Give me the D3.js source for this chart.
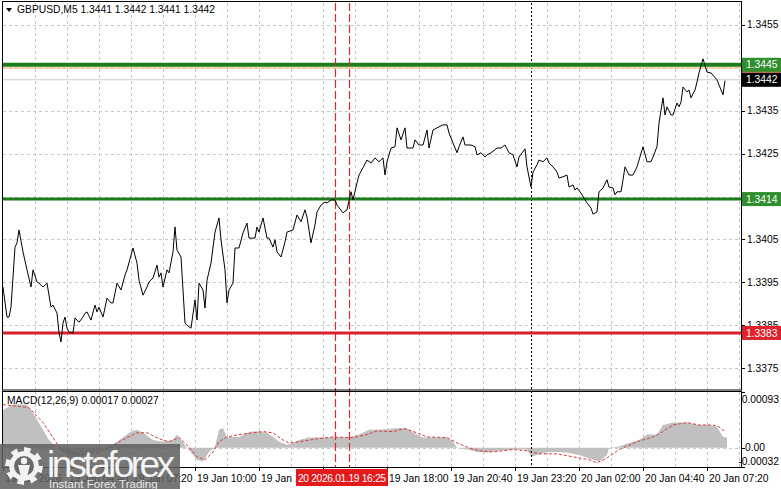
<!DOCTYPE html>
<html>
<head>
<meta charset="utf-8">
<script src="https://cdn.jsdelivr.net/npm/d3@7"></script>
<style>
body { margin: 0; background: #fff; }
text { font-family: "Liberation Sans", Arial, sans-serif; }
</style>
</head>
<body>
<div id="dataviz"></div>
<script>
// ---- data (bar = 5 min bars from 19 Jan 02:00) ----
var header = "GBPUSD,M5  1.3441 1.3442 1.3441 1.3442";
var macdTitle = "MACD(12,26,9) 0.00017 0.00027";

var priceBars = [0,2,3,4,6,7,8,10,12,14,15,17,18,20,22,24,25,27,28,29,30,31,32,33,35,36,38,40,41,42,44,46,47,48,50,52,54,55,57,59,61,62,65,67,68,70,72,73,75,77,78,79,80,82,83,85,86,87,89,90,91,92,94,96,97,98,100,101,102,104,106,108,109,111,112,113,115,116,118,120,122,123,126,127,128,130,132,133,135,136,137,139,141,142,145,147,149,151,152,154,156,157,159,161,162,164,166,167,170,172,174,175,177,178,180,182,184,186,188,190,191,192,194,196,197,199,201,202,205,206,208,210,212,213,215,217,220,222,223,225,227,228,230,231,234,236,237,239,241,242,244,246,247,249,251,253,255,257,258,261,262,264,265,267,268,270,272,273,275,277,278,280,282,283,285,286,287,289,291,292,294,295,297,298,300,302,303,305,306,307,309,310,311,313,315,317,318,320,322,324,325,327,328,330,331,332,334,335,337,338,339,340,342,343,344,346,347,348,350,352,354,357,358,360,361];
var priceValues = [1.33939,1.33869,1.33869,1.33892,1.34032,1.34042,1.34072,1.34021,1.33979,1.33939,1.33979,1.33951,1.33948,1.33939,1.33948,1.33892,1.33897,1.33878,1.33832,1.33811,1.33855,1.33869,1.33843,1.33834,1.33832,1.33867,1.33857,1.33869,1.33878,1.33881,1.33862,1.33897,1.33881,1.33892,1.33869,1.33913,1.33902,1.33902,1.33948,1.33932,1.33967,1.33979,1.34030,1.33995,1.33955,1.33920,1.33939,1.33951,1.33960,1.33990,1.33962,1.33972,1.33939,1.33979,1.33972,1.34021,1.34079,1.34025,1.34009,1.33932,1.33855,1.33850,1.33843,1.33909,1.33862,1.33948,1.33932,1.33890,1.33955,1.33995,1.34067,1.34100,1.34049,1.33979,1.33902,1.33932,1.33948,1.34030,1.34030,1.34065,1.34088,1.34053,1.34053,1.34079,1.34067,1.34100,1.34053,1.34053,1.34032,1.34049,1.34021,1.34009,1.34044,1.34067,1.34072,1.34107,1.34091,1.34119,1.34102,1.34042,1.34084,1.34114,1.34130,1.34137,1.34135,1.34142,1.34142,1.34130,1.34112,1.34119,1.34161,1.34142,1.34182,1.34200,1.34217,1.34235,1.34228,1.34240,1.34231,1.34240,1.34200,1.34231,1.34263,1.34266,1.34310,1.34282,1.34310,1.34263,1.34263,1.34282,1.34270,1.34270,1.34305,1.34263,1.34305,1.34310,1.34317,1.34317,1.34298,1.34275,1.34252,1.34266,1.34289,1.34270,1.34270,1.34266,1.34247,1.34252,1.34242,1.34247,1.34252,1.34259,1.34263,1.34263,1.34270,1.34252,1.34247,1.34219,1.34242,1.34261,1.34219,1.34172,1.34207,1.34224,1.34235,1.34231,1.34240,1.34228,1.34219,1.34207,1.34193,1.34196,1.34200,1.34172,1.34177,1.34165,1.34170,1.34158,1.34142,1.34135,1.34123,1.34109,1.34114,1.34161,1.34170,1.34189,1.34172,1.34170,1.34154,1.34161,1.34161,1.34189,1.34219,1.34200,1.34200,1.34219,1.34235,1.34266,1.34231,1.34231,1.34242,1.34266,1.34321,1.34380,1.34340,1.34359,1.34340,1.34340,1.34368,1.34359,1.34370,1.34405,1.34394,1.34398,1.34380,1.34398,1.34417,1.34438,1.34471,1.34440,1.34438,1.34422,1.34410,1.34387,1.34420];

var histBars = [0,5,12,15,20,23,27,33,41,48,55,60,64,67,70,75,80,85,87,89,92,97,100,103,106,108,110,112,115,118,122,125,128,132,135,138,142,145,148,153,158,163,168,173,178,183,188,198,202,207,210,215,222,225,227,232,237,242,248,255,262,264,267,272,277,282,288,295,298,302,303,308,313,318,322,327,330,335,342,348,353,357,360,362];
var histValues = [0.00063,0.00072,0.00072,0.00058,0.00030,0.00013,0,-0.00015,-0.00012,-0.00005,0.00005,0.00017,0.00027,0.00030,0.00025,0.00013,0.00010,0.00013,0.00022,0.00013,0,-0.00020,-0.00023,-0.00007,0.00002,0.00030,0.00033,0.00017,0.00018,0.00018,0.00025,0.00027,0.00027,0.00025,0.00018,0.00010,0.00005,0.00008,0.00013,0.00017,0.00017,0.00017,0.00018,0.00017,0.00022,0.00030,0.00030,0.00033,0.00032,0.00022,0.00017,0.00017,0.00017,0.00010,0,-0.00003,-0.00007,-0.00008,-0.00005,-0.00003,-0.00003,-0.00015,-0.00012,-0.00007,-0.00007,-0.00008,-0.00012,-0.00020,-0.00023,-0.00012,0,0.00002,0.00008,0.00013,0.00022,0.00022,0.00038,0.00042,0.00042,0.00038,0.00038,0.00035,0.00018,0.00017];

var signalBars = [0,13,20,25,29,38,48,57,62,67,72,78,83,88,92,97,101,105,108,112,118,125,130,135,140,143,148,157,165,175,182,187,195,201,207,212,222,227,233,238,245,255,262,268,277,285,293,297,302,308,317,325,330,335,342,348,355,358,361];
var signalValues = [0.00072,0.00067,0.00042,0.00017,-0.00003,-0.00012,-0.00008,0.00008,0.00017,0.00025,0.00025,0.00015,0.00010,0.00017,0.00005,-0.00015,-0.00020,-0.00007,0.00010,0.00018,0.00022,0.00025,0.00027,0.00025,0.00013,0.00008,0.00010,0.00015,0.00018,0.00017,0.00022,0.00028,0.00027,0.00032,0.00025,0.00018,0.00017,0.00008,0,-0.00005,-0.00007,-0.00003,-0.00005,-0.00010,-0.00010,-0.00015,-0.00020,-0.00025,-0.00017,-0.00003,0.00010,0.00018,0.00027,0.00038,0.00042,0.00038,0.00038,0.00035,0.00027];

var priceTicks = [1.3455, 1.3445, 1.3435, 1.3425, 1.3415, 1.3405, 1.3395, 1.3385, 1.3375];
var timeLabels = ["19 Jan 2026", "19 Jan 04:40", "19 Jan 07:20", "19 Jan 10:00", "19 Jan 12:40", "19 Jan 15:20",
                  "19 Jan 18:00", "19 Jan 20:40", "19 Jan 23:20", "20 Jan 02:00", "20 Jan 04:40", "20 Jan 07:20"];
var macdTicks = [0.00093, 0, -0.00032];
var macdTickText = ["0.00093", "0.00", "-0.00032"];

var levelValues = [1.34457, 1.34144, 1.33832];
var levelText = ["1.3445", "1.3414", "1.3383"];
var levelColors = ["#1d7d1d", "#1d7d1d", "#d8202a"];
var tagColors = ["#2f8f2f", "#2f8f2f", "#e0202a"];
var bidValue = 1.34422, bidText = "1.3442";
var markerBars = [166, 173];
var markerText = "20  2026.01.19 16:25";
var daySepBar = 264;

// ---- layout ----
var W = 781, H = 489;
var left = 3, right = 741, mainTop = 3, mainBottom = 390, macdTop = 392, macdBottom = 467;
var fs = 10.3;

var svg = d3.select("#dataviz").append("svg")
    .attr("width", W)
    .attr("height", H)
    .style("display", "block");

var x = d3.scaleLinear().domain([0, 369]).range([left, right]);
var y = d3.scaleLinear().domain([1.33699, 1.34601]).range([mainBottom, mainTop]);
var ym = d3.scaleLinear().domain([-0.00032, 0.00093]).range([macdBottom, macdTop]);

var gridBars = d3.range(16, 369, 16);

// vertical grid in both panels
[[mainTop, mainBottom], [macdTop, macdBottom]].forEach(function(p) {
    svg.append("g").selectAll("line").data(gridBars).enter().append("line")
        .attr("x1", d => Math.round(x(d)) + 0.5).attr("x2", d => Math.round(x(d)) + 0.5)
        .attr("y1", p[0]).attr("y2", p[1])
        .attr("stroke", "#c8c8c8").attr("stroke-dasharray", "3,3");
});

// horizontal grid
svg.append("g").selectAll("line").data(priceTicks).enter().append("line")
    .attr("x1", left).attr("x2", right)
    .attr("y1", d => Math.round(y(d)) + 0.5).attr("y2", d => Math.round(y(d)) + 0.5)
    .attr("stroke", "#c8c8c8").attr("stroke-dasharray", "3,3");

svg.append("line")
    .attr("x1", left).attr("x2", right)
    .attr("y1", Math.round(ym(0)) + 0.5).attr("y2", Math.round(ym(0)) + 0.5)
    .attr("stroke", "#c8c8c8").attr("stroke-dasharray", "3,3");

// MACD histogram + signal
var price = priceBars.map((b, i) => ({ b: b, v: priceValues[i] }));
var hist = histBars.map((b, i) => ({ b: b, v: histValues[i] }));
var signal = signalBars.map((b, i) => ({ b: b, v: signalValues[i] }));

svg.append("path")
    .datum(hist)
    .attr("fill", "#c0c0c0")
    .attr("d", d3.area().x(d => x(d.b)).y0(ym(0)).y1(d => ym(d.v)));

svg.append("path")
    .datum(signal)
    .attr("fill", "none")
    .attr("stroke", "#d43a3a")
    .attr("stroke-width", 1)
    .attr("stroke-dasharray", "3,2")
    .attr("d", d3.line().x(d => x(d.b)).y(d => ym(d.v)));

// day separator
svg.append("line")
    .attr("x1", Math.round(x(daySepBar)) + 0.5).attr("x2", Math.round(x(daySepBar)) + 0.5)
    .attr("y1", mainTop).attr("y2", macdBottom)
    .attr("stroke", "#000").attr("stroke-dasharray", "2,2");

// levels
svg.append("line")
    .attr("x1", left).attr("x2", right)
    .attr("y1", y(bidValue)).attr("y2", y(bidValue))
    .attr("stroke", "#c8c8c8");

svg.append("line")
    .attr("x1", left).attr("x2", right)
    .attr("y1", y(levelValues[0]) + 3).attr("y2", y(levelValues[0]) + 3)
    .attr("stroke", "#f3cf9c").attr("stroke-width", 1.5);

svg.append("g").selectAll("line").data(levelValues).enter().append("line")
    .attr("x1", left).attr("x2", right)
    .attr("y1", d => y(d)).attr("y2", d => y(d))
    .attr("stroke", (d, i) => levelColors[i])
    .attr("stroke-width", (d, i) => i == 0 ? 4 : 3);

// red time markers
svg.append("g").selectAll("line").data(markerBars).enter().append("line")
    .attr("x1", d => Math.round(x(d)) + 0.5).attr("x2", d => Math.round(x(d)) + 0.5)
    .attr("y1", mainTop).attr("y2", macdBottom)
    .attr("stroke", "#e0262b").attr("stroke-width", 1.2)
    .attr("stroke-dasharray", "8,3");

// price line
svg.append("path")
    .datum(price)
    .attr("fill", "none")
    .attr("stroke", "#000")
    .attr("stroke-width", 1)
    .attr("d", d3.line().x(d => x(d.b)).y(d => y(d.v)));

// frames
svg.append("rect").attr("x", left - 0.5).attr("y", 1.5).attr("width", right - left + 1).attr("height", mainBottom - 1.5)
    .attr("fill", "none").attr("stroke", "#000");
svg.append("rect").attr("x", left - 0.5).attr("y", macdTop - 0.5).attr("width", right - left + 1).attr("height", macdBottom - macdTop + 1)
    .attr("fill", "none").attr("stroke", "#000");

// right price axis (labels hidden under a level tag are not drawn)
var tagValues = levelValues.concat([bidValue]);
var shownTicks = priceTicks.filter(t => tagValues.every(v => Math.abs(y(t) - y(v)) > 10));
var ax = svg.append("g").attr("class", "y-axis");
ax.selectAll("line").data(priceTicks).enter().append("line")
    .attr("x1", right).attr("x2", right + 4)
    .attr("y1", d => Math.round(y(d)) + 0.5).attr("y2", d => Math.round(y(d)) + 0.5)
    .attr("stroke", "#000");
ax.selectAll("text").data(shownTicks).enter().append("text")
    .attr("x", right + 6).attr("y", d => y(d)).attr("dy", "0.35em")
    .attr("font-size", fs).attr("fill", "#000")
    .text(d => d3.format(".4f")(d));

// the 1.3385 label peeks out above the red tag
svg.append("text").attr("x", right + 6).attr("y", y(1.3385)).attr("dy", "0.35em")
    .attr("font-size", fs).text("1.3385");

// coloured level labels
function tag(v, txt, fill) {
    svg.append("rect").attr("x", right + 1).attr("y", y(v) - 7).attr("width", W - right).attr("height", 14).attr("fill", fill);
    svg.append("text").attr("x", right + 5).attr("y", y(v)).attr("dy", "0.35em")
        .attr("font-size", fs).attr("fill", "#fff").text(txt);
}
svg.append("rect").attr("x", right + 1).attr("y", y(levelValues[0]) + 5).attr("width", W - right).attr("height", 3).attr("fill", "#e8683a");
levelValues.forEach((v, i) => tag(v, levelText[i], tagColors[i]));
tag(bidValue, bidText, "#000");

// MACD axis
ax.selectAll(".mt").data(macdTicks).enter().append("line")
    .attr("x1", right).attr("x2", right + 4)
    .attr("y1", d => Math.round(ym(d)) + 0.5).attr("y2", d => Math.round(ym(d)) + 0.5)
    .attr("stroke", "#000");
ax.selectAll(".ml").data(macdTicks).enter().append("text")
    .attr("x", (d, i) => i == 1 ? right + 4 : W - 2)
    .attr("text-anchor", (d, i) => i == 1 ? "start" : "end")
    .attr("y", (d, i) => i == 0 ? ym(d) + 7 : (i == 2 ? ym(d) - 6 : ym(d)))
    .attr("dy", "0.35em")
    .attr("font-size", fs)
    .text((d, i) => macdTickText[i]);

// time axis
var mx = x(markerBars[1]);
var tb = timeLabels.map((t, i) => ({ b: i * 32, t: t }))
    .filter(d => x(d.b) < mx - 60 || x(d.b) > mx + 30);
var tx = svg.append("g").attr("class", "x-axis");
tx.selectAll("line").data(timeLabels.map((t, i) => i * 32)).enter().append("line")
    .attr("x1", d => Math.round(x(d)) + 0.5).attr("x2", d => Math.round(x(d)) + 0.5)
    .attr("y1", macdBottom).attr("y2", macdBottom + 4)
    .attr("stroke", "#000");
tx.selectAll("text").data(tb).enter().append("text")
    .attr("x", d => x(d.b) + 2).attr("y", 482)
    .attr("font-size", fs)
    .text(d => d.t);

// red time marker label
svg.append("rect").attr("x", mx - 53).attr("y", 469).attr("width", 92).attr("height", 17).attr("fill", "#e3191c");
svg.append("text").attr("x", mx - 51).attr("y", 482).attr("font-size", fs).attr("fill", "#fff")
    .attr("textLength", 88).text(markerText);

// titles
svg.append("path").attr("d", "M6,8 L12,8 L9,12 Z").attr("fill", "#000");
svg.append("text").attr("x", 17).attr("y", 13).attr("font-size", fs).text(header);
svg.append("text").attr("x", 7).attr("y", 404).attr("font-size", fs).text(macdTitle);

// watermark
var wm = svg.append("g");
wm.append("rect").attr("x", 0).attr("y", 444).attr("width", 180).attr("height", 45).attr("fill", "#5e5e5e").attr("opacity", 0.85);
var cx = 24, cy = 466;
var gp = "";
d3.range(16).forEach(function(i) {
    var a0 = i * Math.PI / 8, r = (i % 2 == 0) ? 19 : 15;
    var a1 = a0 + Math.PI / 8;
    gp += (i == 0 ? "M" : "L") + (cx + r * Math.cos(a0)) + "," + (cy + r * Math.sin(a0));
    gp += "L" + (cx + r * Math.cos(a1)) + "," + (cy + r * Math.sin(a1));
});
wm.append("path").attr("d", gp + "Z").attr("fill", "#f2f2f2");
wm.append("circle").attr("cx", cx).attr("cy", cy).attr("r", 10).attr("fill", "#6a6a6a");
wm.append("circle").attr("cx", cx).attr("cy", cy - 5).attr("r", 3.2).attr("fill", "#f2f2f2");
wm.append("path").attr("d", `M${cx - 6},${cy - 1} L${cx + 6},${cy - 1} L${cx + 3},${cy + 11} L${cx - 3},${cy + 11} Z`).attr("fill", "#f2f2f2");
wm.append("text").attr("x", 47).attr("y", 477).attr("font-size", 37).attr("font-family", "Lato, 'Open Sans', sans-serif")
    .attr("font-weight", 300).attr("fill", "#f4f4f4").attr("textLength", 128).text("instaforex");
wm.append("text").attr("x", 49).attr("y", 488).attr("font-size", 11.5).attr("fill", "#e8e8e8").text("Instant Forex Trading");
</script>
</body>
</html>
